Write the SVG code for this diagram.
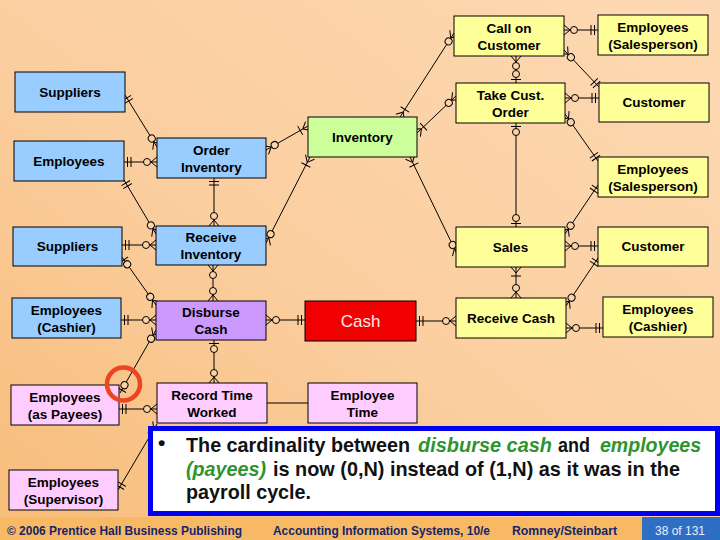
<svg xmlns="http://www.w3.org/2000/svg" width="720" height="540" viewBox="0 0 720 540">
<defs>
<linearGradient id="bg" x1="0" y1="1" x2="1" y2="0">
<stop offset="0" stop-color="#F7BC78"/>
<stop offset="0.45" stop-color="#FBCE9F"/>
<stop offset="1" stop-color="#FDD9B3"/>
</linearGradient>
<marker id="zm" viewBox="0 -7 22 14" refX="20" refY="0" markerWidth="22" markerHeight="14" markerUnits="userSpaceOnUse" orient="auto-start-reverse">
<path d="M14,0 L20,-5 M14,0 L20,5" fill="none" stroke="#000"/>
<circle cx="10" cy="0" r="3.5" fill="#FCD3A6" stroke="#000"/>
</marker>
<marker id="om" viewBox="0 -7 22 14" refX="20" refY="0" markerWidth="22" markerHeight="14" markerUnits="userSpaceOnUse" orient="auto-start-reverse">
<path d="M14,0 L20,-5 M14,0 L20,5 M11,-5 L11,5" fill="none" stroke="#000"/>
</marker>
<marker id="oo" viewBox="0 -7 22 14" refX="20" refY="0" markerWidth="22" markerHeight="14" markerUnits="userSpaceOnUse" orient="auto-start-reverse">
<path d="M13,-5 L13,5 M16.5,-5 L16.5,5" fill="none" stroke="#000"/>
</marker>
<marker id="zo" viewBox="0 -7 22 14" refX="20" refY="0" markerWidth="22" markerHeight="14" markerUnits="userSpaceOnUse" orient="auto-start-reverse">
<path d="M16.5,-5 L16.5,5" fill="none" stroke="#000"/>
<circle cx="11" cy="0" r="3.5" fill="#FCD3A6" stroke="#000"/>
</marker>
</defs>
<style>
.n rect{stroke:#000;stroke-width:1}
.b{fill:#99CCFF}.y{fill:#FFFF99}.gr{fill:#CCFF99}.p{fill:#CC99FF}.k{fill:#FFCCFF}.r{fill:#F00000}
.n text{font-family:"Liberation Sans",Arial,sans-serif;font-weight:bold;font-size:13.5px;text-anchor:middle;fill:#000}
#cash text{font-weight:normal;font-size:17px;fill:#FFE8E8}
#conn line{stroke:#000;stroke-width:1;fill:none}
.main{font-family:"Liberation Sans",Arial,sans-serif;font-weight:bold;font-size:21px;fill:#111}
.g{fill:#2E942E;font-style:italic}
.f{font-family:"Liberation Sans",Arial,sans-serif;font-weight:bold;font-size:13.5px;fill:#15256A}
</style>
<rect x="0" y="0" width="720" height="540" fill="url(#bg)"/>
<g id="conn">
<line x1="125" y1="95" x2="157" y2="147" marker-start="url(#oo)" marker-end="url(#zm)"/>
<line x1="124" y1="162" x2="157" y2="162" marker-start="url(#oo)" marker-end="url(#zm)"/>
<line x1="266" y1="150" x2="308" y2="126" marker-start="url(#zm)" marker-end="url(#om)"/>
<line x1="214" y1="178" x2="214" y2="226" marker-start="url(#oo)" marker-end="url(#zm)"/>
<line x1="124" y1="180" x2="156" y2="234" marker-start="url(#oo)" marker-end="url(#zm)"/>
<line x1="310" y1="157" x2="266" y2="243" marker-start="url(#om)" marker-end="url(#zm)"/>
<line x1="410" y1="157" x2="457" y2="254" marker-start="url(#om)" marker-end="url(#zm)"/>
<line x1="400" y1="117" x2="454" y2="33" marker-start="url(#om)" marker-end="url(#zm)"/>
<line x1="417" y1="133" x2="456" y2="96" marker-start="url(#om)" marker-end="url(#zm)"/>
<line x1="564" y1="30" x2="598" y2="30" marker-start="url(#zm)" marker-end="url(#oo)"/>
<line x1="564" y1="50" x2="599" y2="87" marker-start="url(#zm)" marker-end="url(#oo)"/>
<line x1="516" y1="56" x2="516" y2="83" marker-start="url(#zm)" marker-end="url(#zo)"/>
<line x1="565" y1="98" x2="599" y2="98" marker-start="url(#zm)" marker-end="url(#oo)"/>
<line x1="565" y1="114" x2="598" y2="161" marker-start="url(#zm)" marker-end="url(#oo)"/>
<line x1="516" y1="123" x2="516" y2="227" marker-start="url(#zo)" marker-end="url(#zo)"/>
<line x1="598" y1="185" x2="565" y2="234" marker-start="url(#oo)" marker-end="url(#zm)"/>
<line x1="565" y1="246" x2="598" y2="246" marker-start="url(#zm)" marker-end="url(#oo)"/>
<line x1="516" y1="267" x2="516" y2="298" marker-start="url(#om)" marker-end="url(#zm)"/>
<line x1="598" y1="258" x2="566" y2="306" marker-start="url(#oo)" marker-end="url(#zm)"/>
<line x1="566" y1="328" x2="603" y2="328" marker-start="url(#zm)" marker-end="url(#oo)"/>
<line x1="416" y1="321" x2="456" y2="321" marker-start="url(#oo)" marker-end="url(#zm)"/>
<line x1="266" y1="320" x2="305" y2="320" marker-start="url(#zm)" marker-end="url(#oo)"/>
<line x1="213" y1="265" x2="213" y2="301" marker-start="url(#zm)" marker-end="url(#zm)"/>
<line x1="122" y1="257" x2="156" y2="305" marker-start="url(#zo)" marker-end="url(#zm)"/>
<line x1="122" y1="245" x2="156" y2="245" marker-start="url(#oo)" marker-end="url(#zm)"/>
<line x1="121" y1="320" x2="156" y2="320" marker-start="url(#oo)" marker-end="url(#zm)"/>
<line x1="156" y1="330" x2="120" y2="393" marker-start="url(#zm)" marker-end="url(#zo)"/>
<line x1="119" y1="409" x2="157" y2="409" marker-start="url(#oo)" marker-end="url(#zm)"/>
<line x1="214" y1="340" x2="214" y2="383" marker-start="url(#zo)" marker-end="url(#zm)"/>
<line x1="267" y1="403" x2="308" y2="403"/>
<line x1="118" y1="490" x2="157" y2="424" marker-start="url(#oo)" marker-end="url(#zm)"/>
</g>
<g id="sup1" class="n"><rect class="b" x="15" y="72" width="110" height="40"/><text x="70" y="97">Suppliers</text></g>
<g id="emp1" class="n"><rect class="b" x="14" y="141" width="110" height="40"/><text x="69" y="166">Employees</text></g>
<g id="ordInv" class="n"><rect class="b" x="157" y="138" width="109" height="40"/><text x="211.5" y="155">Order</text><text x="211.5" y="172">Inventory</text></g>
<g id="inv" class="n"><rect class="gr" x="308" y="117" width="109" height="40"/><text x="362.5" y="142">Inventory</text></g>
<g id="call" class="n"><rect class="y" x="454" y="16" width="110" height="40"/><text x="509" y="33">Call on</text><text x="509" y="50">Customer</text></g>
<g id="empS1" class="n"><rect class="y" x="598" y="15" width="110" height="40"/><text x="653" y="32">Employees</text><text x="653" y="49">(Salesperson)</text></g>
<g id="take" class="n"><rect class="y" x="456" y="83" width="109" height="40"/><text x="510.5" y="100">Take Cust.</text><text x="510.5" y="117">Order</text></g>
<g id="cust1" class="n"><rect class="y" x="599" y="83" width="110" height="39"/><text x="654" y="107">Customer</text></g>
<g id="empS2" class="n"><rect class="y" x="598" y="157" width="110" height="40"/><text x="653" y="174">Employees</text><text x="653" y="191">(Salesperson)</text></g>
<g id="sales" class="n"><rect class="y" x="456" y="227" width="109" height="40"/><text x="510.5" y="252">Sales</text></g>
<g id="cust2" class="n"><rect class="y" x="598" y="227" width="110" height="39"/><text x="653" y="251">Customer</text></g>
<g id="rc" class="n"><rect class="y" x="456" y="298" width="110" height="40"/><text x="511" y="323">Receive Cash</text></g>
<g id="empC2" class="n"><rect class="y" x="603" y="297" width="110" height="40"/><text x="658" y="314">Employees</text><text x="658" y="331">(Cashier)</text></g>
<g id="cash" class="n"><rect class="r" x="305" y="301" width="111" height="40"/><text x="360.5" y="327">Cash</text></g>
<g id="empTime" class="n"><rect class="k" x="308" y="383" width="109" height="40"/><text x="362.5" y="400">Employee</text><text x="362.5" y="417">Time</text></g>
<g id="sup2" class="n"><rect class="b" x="13" y="227" width="109" height="39"/><text x="67.5" y="251">Suppliers</text></g>
<g id="ri" class="n"><rect class="b" x="156" y="226" width="110" height="39"/><text x="211" y="242">Receive</text><text x="211" y="259">Inventory</text></g>
<g id="empC1" class="n"><rect class="b" x="12" y="298" width="109" height="40"/><text x="66.5" y="315">Employees</text><text x="66.5" y="332">(Cashier)</text></g>
<g id="dc" class="n"><rect class="p" x="156" y="301" width="110" height="39"/><text x="211" y="317">Disburse</text><text x="211" y="334">Cash</text></g>
<g id="payees" class="n"><rect class="k" x="11" y="385" width="108" height="40"/><text x="65" y="402">Employees</text><text x="65" y="419">(as Payees)</text></g>
<g id="rtw" class="n"><rect class="k" x="157" y="383" width="110" height="40"/><text x="212" y="400">Record Time</text><text x="212" y="417">Worked</text></g>
<g id="super" class="n"><rect class="k" x="9" y="470" width="109" height="40"/><text x="63.5" y="487">Employees</text><text x="63.5" y="504">(Supervisor)</text></g>
<g id="note">
<rect x="150.5" y="428.5" width="567" height="85" fill="#FFFFFF" stroke="#0000EE" stroke-width="5"/>
<text class="main" x="158" y="450">•</text>
<text class="main" x="186" y="452" textLength="224" lengthAdjust="spacingAndGlyphs">The cardinality between</text>
<text class="main g" x="418" y="452" textLength="134" lengthAdjust="spacingAndGlyphs">disburse cash</text>
<text class="main" x="558" y="452" textLength="32" lengthAdjust="spacingAndGlyphs">and</text>
<text class="main g" x="600" y="452" textLength="101" lengthAdjust="spacingAndGlyphs">employees</text>
<text class="main g" x="186" y="476" textLength="80" lengthAdjust="spacingAndGlyphs">(payees)</text>
<text class="main" x="273" y="476" textLength="407" lengthAdjust="spacingAndGlyphs">is now (0,N) instead of (1,N) as it was in the</text>
<text class="main" x="186" y="499" textLength="125" lengthAdjust="spacingAndGlyphs">payroll cycle.</text>
</g>
<g id="footer">
<rect x="0" y="517" width="720" height="23" fill="#F8B965"/>
<rect x="642" y="517" width="78" height="23" fill="#2F6FC3"/>
<text class="f" x="7" y="535" textLength="235" lengthAdjust="spacingAndGlyphs">© 2006 Prentice Hall Business Publishing</text>
<text class="f" x="273" y="535" textLength="217" lengthAdjust="spacingAndGlyphs">Accounting Information Systems, 10/e</text>
<text class="f" x="512" y="535" textLength="105" lengthAdjust="spacingAndGlyphs">Romney/Steinbart</text>
<text x="655" y="535" textLength="50" lengthAdjust="spacingAndGlyphs" style="font-family:'Liberation Sans',Arial,sans-serif;font-size:13.5px;fill:#E6EEFF">38 of 131</text>
</g>
<circle id="highlight" cx="123.5" cy="384" r="16.5" fill="none" stroke="#EE4420" stroke-width="4.5"/>
</svg>
